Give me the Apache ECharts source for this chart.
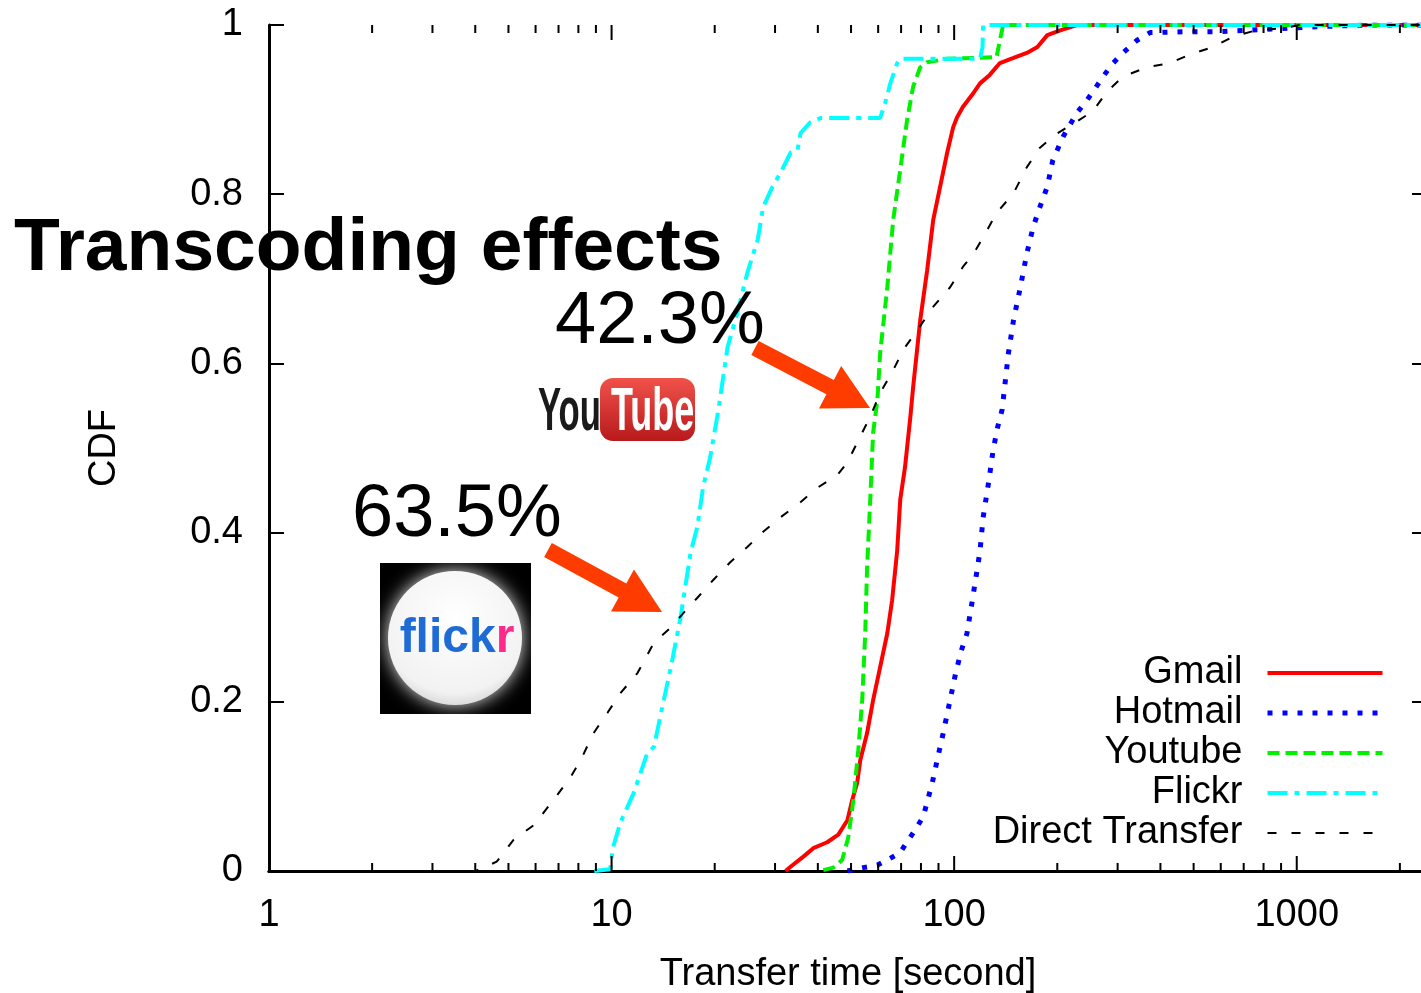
<!DOCTYPE html>
<html>
<head>
<meta charset="utf-8">
<title>Transfer time CDF</title>
<script src="https://cdn.jsdelivr.net/npm/echarts@6/dist/echarts.min.js"></script>
<style>
    html, body { margin: 0; padding: 0; background: #fff; overflow: hidden; }
    #chart { width: 1421px; height: 993px; }
</style>
</head>
<body>
<div id="chart"></div>
<script>
// values: [transfer time (s), CDF]
var gmail = [[32.2,0],[33.3,0.005],[36.3,0.017],[38.8,0.027],[42.6,0.034],[45.9,0.043],[48.8,0.06],[50.4,0.084],
    [52.1,0.104],[53.2,0.131],[55.7,0.163],[58,0.202],[60.8,0.241],[63.8,0.281],[65.9,0.32],[68.2,0.379],[69.6,0.439],
    [71.9,0.478],[74.5,0.537],[75.9,0.572],[79.6,0.651],[83.4,0.71],[86.9,0.77],[91,0.809],[95.4,0.849],[99.3,0.879],
    [102,0.891],[106,0.903],[114,0.92],[119,0.931],[127,0.941],[136,0.955],[149,0.961],[163,0.967],[175,0.974],
    [187,0.988],[205,0.994],[228,1],[2400,1]];
var hotmail = [[48.8,0],[54.3,0.004],[59.7,0.007],[63.8,0.013],[69.6,0.022],[75.9,0.045],[81.2,0.064],[86.3,0.104],
    [89.2,0.131],[92.9,0.163],[97.3,0.202],[101,0.234],[105,0.261],[109,0.281],[113,0.32],[117,0.359],[119,0.379],
    [121.5,0.418],[126,0.459],[130,0.498],[134,0.525],[138,0.545],[144,0.612],[149,0.651],[156,0.69],[163,0.73],
    [170,0.761],[178,0.785],[187,0.809],[194,0.84],[208,0.868],[228,0.896],[244,0.911],[254,0.921],[272,0.939],
    [291,0.955],[311,0.967],[342,0.982],[373,0.991],[465,0.992],[585,0.992],[729,0.994],[910,0.996],[1143,0.998],
    [1600,1],[2400,1]];
var youtube = [[41.5,0.001],[44.4,0.004],[47.1,0.013],[49.1,0.04],[50.8,0.084],[52.5,0.143],[53.9,0.202],[55,0.281],
    [55.7,0.359],[56.9,0.439],[58,0.518],[59.7,0.557],[60.8,0.612],[63.8,0.69],[66.4,0.77],[69.6,0.829],[72.9,0.888],
    [75.9,0.927],[79.6,0.95],[83.4,0.956],[95.4,0.96],[133,0.962],[136,0.982],[139,1],[2400,1]];
var flickr = [[8.9,0],[9.9,0.002],[10.1,0.028],[10.6,0.057],[11.6,0.092],[12.7,0.139],[13.3,0.147],[14.2,0.202],
    [14.9,0.241],[15.9,0.3],[17,0.376],[17.8,0.407],[18.5,0.454],[19.4,0.489],[20.5,0.545],[21.8,0.619],[23.3,0.66],
    [24.9,0.707],[26.7,0.746],[27.7,0.785],[29.5,0.809],[31.1,0.825],[33.3,0.849],[34.9,0.852],[35.6,0.872],
    [38,0.885],[40.7,0.89],[60.8,0.89],[62.9,0.908],[65.1,0.931],[68.2,0.955],[69.6,0.96],[119,0.96],[121,0.974],
    [121.5,1],[2400,1]];
var direct = [[2.79,0],[3.3,0],[4.01,0],[4.62,0.011],[5.18,0.037],[5.92,0.054],[6.77,0.084],[7.59,0.111],[8.12,0.131],
    [8.86,0.163],[9.73,0.187],[10.6,0.21],[11.9,0.234],[13.3,0.27],[14.9,0.288],[16.7,0.311],[17.8,0.323],[19.8,0.344],
    [22.2,0.365],[24.9,0.383],[27.7,0.401],[31.1,0.418],[35.6,0.436],[39.9,0.453],[45.6,0.468],[48.8,0.483],
    [52.5,0.509],[56.9,0.537],[60.8,0.565],[66.4,0.592],[71,0.616],[78,0.639],[86.9,0.667],[97.3,0.69],[106,0.714],
    [114,0.73],[121.5,0.749],[133,0.778],[149,0.801],[163,0.832],[178,0.855],[200,0.872],[222,0.883],[254,0.898],
    [279,0.921],[311,0.939],[365,0.95],[426,0.955],[488,0.965],[569,0.974],[651,0.986],[765,0.994],[910,0.996],
    [1020,1],[2400,1]];

var seriesNames = ['Gmail', 'Hotmail', 'Youtube', 'Flickr', 'Direct Transfer'];
var xMin = 1, xMax = 2400;
var yTicks = [0, 0.2, 0.4, 0.6, 0.8, 1];
var xMajor = [1, 10, 100, 1000];

// gnuplot style minor ticks at 2..9 of every decade
var xMinor = [];
for (var d = 1; d <= 1000; d *= 10) {
    for (var k = 2; k <= 9; k++) {
        if (k * d < xMax) xMinor.push(k * d);
    }
}

var font = '"Liberation Sans", Arial, sans-serif';
var arrowColor = '#ff3c00';

function arrowPoints(tail, tip) {
    var dx = tip[0] - tail[0], dy = tip[1] - tail[1];
    var len = Math.sqrt(dx * dx + dy * dy);
    var ux = dx / len, uy = dy / len, nx = -uy, ny = ux;
    var sw = 8, hw = 24, hl = 45;
    var bx = tip[0] - hl * ux, by = tip[1] - hl * uy;
    return [
        [tail[0] - sw * nx, tail[1] - sw * ny],
        [bx - sw * nx, by - sw * ny],
        [bx - hw * nx, by - hw * ny],
        tip,
        [bx + hw * nx, by + hw * ny],
        [bx + sw * nx, by + sw * ny],
        [tail[0] + sw * nx, tail[1] + sw * ny]
    ];
}

function lineSeries(name, data, color, width, dash) {
    return {
        name: name,
        type: 'line',
        data: data,
        symbol: 'none',
        smooth: false,
        clip: true,
        lineStyle: { color: color, width: width, type: dash },
        itemStyle: { color: color },
        z: 3
    };
}

// x ticks drawn inward on bottom and top edge
function tickSeries(values, len) {
    return {
        type: 'custom',
        silent: true,
        data: values.map(function (v) { return [v, 0]; }),
        encode: { x: 0, y: 1 },
        z: 4,
        renderItem: function (params, api) {
            var x = api.coord([api.value(0), 0])[0];
            var yb = api.coord([1, 0])[1];
            var yt = api.coord([1, 1])[1];
            var st = { stroke: '#000', lineWidth: 2 };
            return {
                type: 'group',
                children: [
                    { type: 'line', shape: { x1: x, y1: yb, x2: x, y2: yb - len }, style: st },
                    { type: 'line', shape: { x1: x, y1: yt, x2: x, y2: yt + len }, style: st }
                ]
            };
        }
    };
}

function axisLine() {
    return { show: true, lineStyle: { color: '#000', width: 3 } };
}
function yTick() {
    return { show: true, inside: true, length: 15, lineStyle: { color: '#000', width: 2 } };
}

var myChart = echarts.init(document.getElementById('chart'));

var option = {
    backgroundColor: '#fff',
    animation: false,
    textStyle: { fontFamily: font },
    grid: { left: 269, right: -6, top: 25, bottom: 122, containLabel: false, outerBoundsMode: 'none' },
    legend: {
        data: seriesNames,
        orient: 'vertical',
        align: 'right',
        right: 31,
        top: 648,
        itemWidth: 115,
        itemHeight: 14,
        itemGap: 0,
        itemStyle: { opacity: 0 },
        lineStyle: { width: 'inherit' },
        textStyle: { fontSize: 38, lineHeight: 40, color: '#000', fontFamily: font, padding: [0, 20, 0, 0] }
    },
    xAxis: [{
        type: 'log',
        logBase: 10,
        min: xMin,
        max: xMax,
        position: 'bottom',
        name: 'Transfer time [second]',
        nameLocation: 'middle',
        nameGap: 85,
        nameTextStyle: { fontSize: 38, color: '#000', fontFamily: font },
        axisLine: axisLine(),
        axisTick: { show: false },
        splitLine: { show: false },
        axisLabel: {
            fontSize: 38, color: '#000', margin: 26, showMaxLabel: false,
            formatter: function (v) { return String(Math.round(v)); }
        }
    }, {
        type: 'log',
        logBase: 10,
        min: xMin,
        max: xMax,
        position: 'top',
        axisLine: axisLine(),
        axisTick: { show: false },
        axisLabel: { show: false },
        splitLine: { show: false }
    }],
    yAxis: [{
        type: 'value',
        min: yTicks[0],
        max: yTicks[yTicks.length - 1],
        interval: 0.2,
        name: 'CDF',
        nameLocation: 'middle',
        nameGap: 145,
        nameRotate: 90,
        nameTextStyle: { fontSize: 38, color: '#000', fontFamily: font },
        axisLine: axisLine(),
        axisTick: yTick(),
        splitLine: { show: false },
        axisLabel: { fontSize: 38, color: '#000', margin: 26 }
    }, {
        type: 'value',
        min: yTicks[0],
        max: yTicks[yTicks.length - 1],
        interval: 0.2,
        position: 'right',
        axisLine: axisLine(),
        axisTick: yTick(),
        axisLabel: { show: false },
        splitLine: { show: false }
    }],
    series: [
        lineSeries('Gmail', gmail, '#ff0000', 4, 'solid'),
        lineSeries('Hotmail', hotmail, '#0000ff', 5, [5, 10]),
        lineSeries('Youtube', youtube, '#00f000', 4, [12, 6]),
        lineSeries('Flickr', flickr, '#00ffff', 4, [20, 7, 5, 7]),
        lineSeries('Direct Transfer', direct, '#000000', 2, [9, 15]),
        tickSeries(xMajor, 15),
        tickSeries(xMinor, 8)
    ],
    graphic: [
        {
            type: 'text', left: 14, top: 212, z: 10,
            style: { text: 'Transcoding effects', font: 'bold 75px ' + font, fill: '#000' }
        },
        {
            type: 'text', left: 555, top: 286, z: 10,
            style: { text: '42.3%', font: '74px ' + font, fill: '#000' }
        },
        {
            type: 'text', left: 352, top: 479, z: 10,
            style: { text: '63.5%', font: '74px ' + font, fill: '#000' }
        },
        { type: 'polygon', z: 10, shape: { points: arrowPoints([755, 348], [870, 408]) }, style: { fill: arrowColor } },
        { type: 'polygon', z: 10, shape: { points: arrowPoints([548, 550], [662, 612]) }, style: { fill: arrowColor } },
        // YouTube badge
        {
            type: 'group', x: 538, y: 376, z: 10,
            children: [
                {
                    type: 'text', x: 0, y: 6, scaleX: 0.56,
                    style: { text: 'You', font: 'bold 62px "Liberation Sans Narrow", ' + font, fill: '#1a1a1a' }
                },
                {
                    type: 'rect', shape: { x: 62, y: 2, width: 95, height: 63, r: 13 },
                    style: {
                        fill: new echarts.graphic.LinearGradient(0, 0, 0, 1, [
                            { offset: 0, color: '#f0524a' }, { offset: 1, color: '#b8191c' }
                        ])
                    }
                },
                {
                    type: 'text', x: 73, y: 6, scaleX: 0.58,
                    style: { text: 'Tube', font: 'bold 62px "Liberation Sans Narrow", ' + font, fill: '#fff' }
                }
            ]
        },
        // flickr badge
        {
            type: 'group', x: 380, y: 563, z: 10,
            children: [
                { type: 'rect', shape: { x: 0, y: 0, width: 151, height: 151 }, style: { fill: '#000' } },
                {
                    type: 'circle', shape: { cx: 75, cy: 75, r: 67 },
                    style: {
                        fill: new echarts.graphic.RadialGradient(0.5, 0.35, 0.7, [
                            { offset: 0, color: '#ffffff' }, { offset: 0.8, color: '#f2f2f2' }, { offset: 1, color: '#d0d0d0' }
                        ]),
                        shadowBlur: 18, shadowColor: 'rgba(255,255,255,0.9)'
                    }
                },
                {
                    type: 'text', x: 77, y: 76,
                    style: {
                        text: '{b|flick}{p|r}', align: 'center', verticalAlign: 'middle',
                        rich: {
                            b: { font: 'bold 48px ' + font, fill: '#1e6bd6' },
                            p: { font: 'bold 48px ' + font, fill: '#ff2a8a' }
                        }
                    }
                }
            ]
        }
    ]
};

myChart.setOption(option);
</script>
</body>
</html>
